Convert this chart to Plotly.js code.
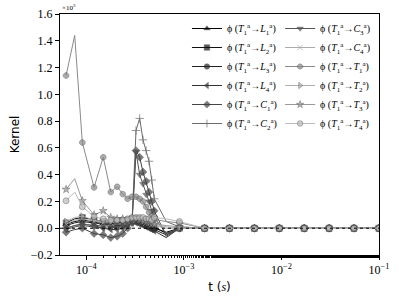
<!DOCTYPE html>
<html>
<head>
<meta charset="utf-8">
<script src="https://cdn.plot.ly/plotly-3.0.1.min.js"></script>
<style>html,body{margin:0;padding:0;background:#fff;}#chart{width:399px;height:301px;}</style>
</head>
<body>
<div id="chart"></div>
<script>
// time grid (s)
const time_s = [6.2e-5, 7.6e-5, 9.1e-5, 1.2e-4, 1.49e-4, 1.78e-4, 2.07e-4, 2.36e-4, 2.65e-4, 2.94e-4,
  3.23e-4, 3.52e-4, 3.81e-4, 4.1e-4, 4.39e-4, 4.68e-4, 4.97e-4, 6.6e-4, 9.0e-4,
  1.63e-3, 2.93e-3, 5.28e-3, 9.5e-3, 1.71e-2, 3.08e-2, 5.54e-2, 9.97e-2];

// kernel values (x10^3)
const k_L1 = [0.03, 0.05, 0.06, 0.05, 0.04, 0.03, 0.03, 0.04, 0.05, 0.06, 0.06, 0.05, 0.04, 0.03, 0.02, 0.01, 0.0, -0.03, 0.0, 0, 0, 0, 0, 0, 0, 0, 0];
const k_L2 = [0.04, 0.07, 0.08, 0.06, 0.05, 0.04, 0.04, 0.05, 0.06, 0.07, 0.07, 0.06, 0.05, 0.04, 0.03, 0.02, 0.01, -0.04, 0.0, 0, 0, 0, 0, 0, 0, 0, 0];
const k_L3 = [0.02, 0.04, 0.05, 0.04, 0.03, 0.02, 0.02, 0.03, 0.04, 0.05, 0.05, 0.04, 0.03, 0.02, 0.01, 0.0, -0.01, -0.05, 0.0, 0, 0, 0, 0, 0, 0, 0, 0];
const k_L4 = [0.0, 0.02, 0.03, 0.02, 0.0, -0.01, -0.01, 0.0, 0.02, 0.04, 0.04, 0.03, 0.02, 0.01, 0.0, -0.01, -0.02, -0.07, 0.0, 0, 0, 0, 0, 0, 0, 0, 0];
const k_C1 = [-0.03, -0.01, 0.0, -0.04, -0.05, -0.07, -0.06, -0.04, 0.0, 0.04, 0.58, 0.53, 0.42, 0.35, 0.27, 0.2, 0.13, -0.06, 0.0, 0, 0, 0, 0, 0, 0, 0, 0];
const k_C2 = [0.0, 0.02, 0.03, 0.02, 0.02, 0.02, 0.03, 0.03, 0.04, 0.05, 0.73, 0.82, 0.66, 0.58, 0.5, 0.36, 0.22, 0.05, 0.01, 0, 0, 0, 0, 0, 0, 0, 0];
const k_C3 = [-0.01, 0.01, 0.02, 0.01, 0.0, 0.0, 0.01, 0.02, 0.03, 0.05, 0.57, 0.40, 0.33, 0.25, 0.2, 0.13, 0.08, -0.04, 0.0, 0, 0, 0, 0, 0, 0, 0, 0];
const k_C4 = [0.03, 0.06, 0.07, 0.05, 0.04, 0.04, 0.05, 0.05, 0.05, 0.06, 0.06, 0.06, 0.05, 0.04, 0.04, 0.03, 0.02, 0.0, 0.0, 0, 0, 0, 0, 0, 0, 0, 0];
const k_T1 = [1.14, 1.44, 0.64, 0.305, 0.53, 0.27, 0.31, 0.255, 0.22, 0.235, 0.235, 0.22, 0.2, 0.16, 0.12, 0.09, 0.065, 0.05, 0.04, 0, 0, 0, 0, 0, 0, 0, 0];
const k_T2 = [0.05, 0.08, 0.09, 0.06, 0.05, 0.05, 0.06, 0.06, 0.06, 0.07, 0.07, 0.06, 0.05, 0.05, 0.04, 0.03, 0.03, 0.01, 0.0, 0, 0, 0, 0, 0, 0, 0, 0];
const k_T3 = [0.29, 0.37, 0.205, 0.1, 0.13, 0.08, 0.07, 0.07, 0.06, 0.07, 0.07, 0.07, 0.06, 0.06, 0.05, 0.04, 0.03, 0.02, 0.01, 0, 0, 0, 0, 0, 0, 0, 0];
const k_T4 = [0.205, 0.27, 0.16, 0.086, 0.07, 0.06, 0.06, 0.06, 0.07, 0.08, 0.08, 0.08, 0.08, 0.07, 0.07, 0.06, 0.08, 0.07, 0.05, 0, 0, 0, 0, 0, 0, 0, 0];

const seriesNames = [
  'ϕ (<i>T</i><sub>1</sub><sup>a</sup>→<i>L</i><sub>1</sub><sup>a</sup>)',
  'ϕ (<i>T</i><sub>1</sub><sup>a</sup>→<i>L</i><sub>2</sub><sup>a</sup>)',
  'ϕ (<i>T</i><sub>1</sub><sup>a</sup>→<i>L</i><sub>3</sub><sup>a</sup>)',
  'ϕ (<i>T</i><sub>1</sub><sup>a</sup>→<i>L</i><sub>4</sub><sup>a</sup>)',
  'ϕ (<i>T</i><sub>1</sub><sup>a</sup>→<i>C</i><sub>1</sub><sup>a</sup>)',
  'ϕ (<i>T</i><sub>1</sub><sup>a</sup>→<i>C</i><sub>2</sub><sup>a</sup>)',
  'ϕ (<i>T</i><sub>1</sub><sup>a</sup>→<i>C</i><sub>3</sub><sup>a</sup>)',
  'ϕ (<i>T</i><sub>1</sub><sup>a</sup>→<i>C</i><sub>4</sub><sup>a</sup>)',
  'ϕ (<i>T</i><sub>1</sub><sup>a</sup>→<i>T</i><sub>1</sub><sup>a</sup>)',
  'ϕ (<i>T</i><sub>1</sub><sup>a</sup>→<i>T</i><sub>2</sub><sup>a</sup>)',
  'ϕ (<i>T</i><sub>1</sub><sup>a</sup>→<i>T</i><sub>3</sub><sup>a</sup>)',
  'ϕ (<i>T</i><sub>1</sub><sup>a</sup>→<i>T</i><sub>4</sub><sup>a</sup>)'
];
const xTickVals = [1e-4, 1e-3, 1e-2, 1e-1];
const xTickText = ['10<sup>−4</sup>', '10<sup>−3</sup>', '10<sup>−2</sup>', '10<sup>−1</sup>'];

const seriesValues = [k_L1, k_L2, k_L3, k_L4, k_C1, k_C2, k_C3, k_C4, k_T1, k_T2, k_T3, k_T4];
const styles = [
  {c: '#000000', s: 'triangle-up'},
  {c: '#111111', s: 'square'},
  {c: '#222222', s: 'circle'},
  {c: '#333333', s: 'triangle-left'},
  {c: '#444444', s: 'diamond'},
  {c: '#6a6a6a', s: 'cross-thin'},
  {c: '#555555', s: 'triangle-down'},
  {c: '#aaaaaa', s: 'x-thin'},
  {c: '#8a8a8a', s: 'octagon'},
  {c: '#b0b0b0', s: 'triangle-right'},
  {c: '#999999', s: 'star'},
  {c: '#bdbdbd', s: 'circle'}
];
const unmarked = [7.6e-5, 6.6e-4];
const msizes = time_s.map(t => unmarked.includes(t) ? 0 : 6);

const traces = seriesValues.map((vals, i) => {
  const st = styles[i];
  const thin = st.s.indexOf('thin') >= 0;
  return {
    x: time_s, y: vals, type: 'scatter', mode: 'lines+markers',
    name: seriesNames[i],
    legend: i < 6 ? 'legend' : 'legend2',
    line: {color: st.c, width: 1},
    marker: {symbol: st.s, size: msizes, color: st.c,
      line: {color: thin ? st.c : '#333333', width: thin ? 1 : 0.5}}
  };
});

const layout = {
  width: 399, height: 301,
  margin: {l: 60, r: 20, t: 14, b: 46},
  paper_bgcolor: '#ffffff', plot_bgcolor: '#ffffff',
  showlegend: true,
  font: {family: 'Liberation Serif', color: '#000'},
  xaxis: {
    type: 'log', range: [-4.27, -1.0],
    tickvals: xTickVals, ticktext: xTickText,
    ticks: 'outside', ticklen: 4, tickcolor: '#000',
    minor: {ticks: 'outside', ticklen: 2, tickcolor: '#000', showgrid: false},
    showline: true, mirror: true, linecolor: '#000', linewidth: 1,
    showgrid: false, zeroline: false,
    tickfont: {family: 'Liberation Serif', size: 12},
    title: {text: 't (<span style="font-family:Liberation Serif"><i>s</i></span>)',
      font: {family: 'DejaVu Sans', size: 12}, standoff: 6}
  },
  yaxis: {
    range: [-0.2, 1.6], dtick: 0.2, tick0: 0, tickformat: '.1f',
    ticks: 'outside', ticklen: 4, tickcolor: '#000',
    showline: true, mirror: true, linecolor: '#000', linewidth: 1,
    showgrid: false, zeroline: false,
    tickfont: {family: 'Liberation Serif', size: 12},
    title: {text: 'Kernel', font: {family: 'DejaVu Sans', size: 12}, standoff: 8}
  },
  shapes: [{type: 'line', xref: 'paper', x0: 0, x1: 1, yref: 'y', y0: 0, y1: 0,
    line: {color: '#000', width: 1, dash: 'dot'}, layer: 'above'}],
  annotations: [{xref: 'paper', yref: 'paper', x: 0, y: 1, xanchor: 'left', yanchor: 'bottom',
    text: '×10<sup>3</sup>', showarrow: false, font: {family: 'Liberation Serif', size: 7}}],
  legend: {x: 0.398, y: 1.0, xanchor: 'left', yanchor: 'top', bgcolor: 'rgba(0,0,0,0)',
    borderwidth: 0, font: {family: 'Liberation Serif', size: 10}, tracegroupgap: 0},
  legend2: {x: 0.69, y: 1.0, xanchor: 'left', yanchor: 'top', bgcolor: 'rgba(0,0,0,0)',
    borderwidth: 0, font: {family: 'Liberation Serif', size: 10}, tracegroupgap: 0}
};

Plotly.newPlot('chart', traces, layout, {displayModeBar: false, staticPlot: true});
</script>
</body>
</html>
